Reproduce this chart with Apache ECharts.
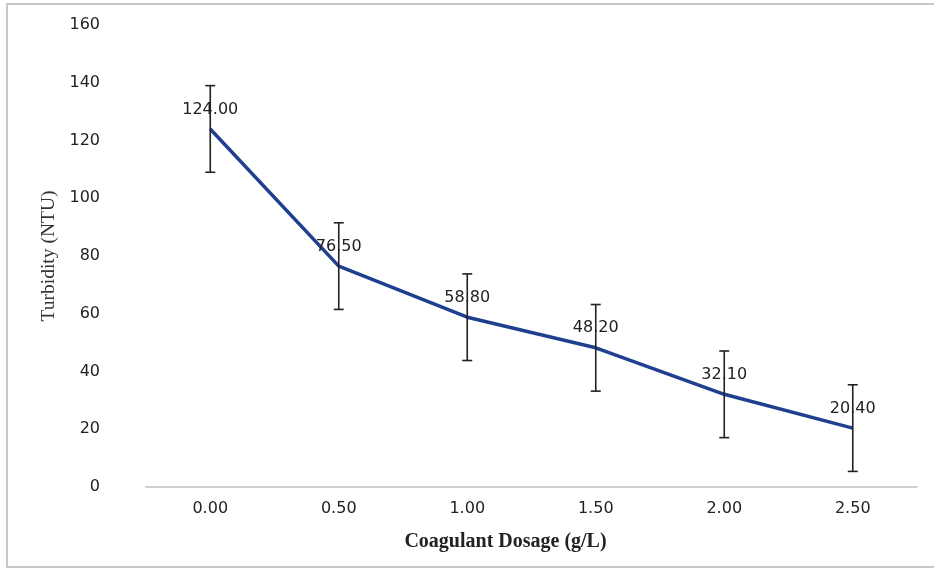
<!DOCTYPE html>
<html>
<head>
<meta charset="utf-8">
<script src="https://cdn.jsdelivr.net/npm/echarts@6/dist/echarts.min.js"></script>
<style>html,body{margin:0;padding:0;background:#fff;}#c{width:934px;height:569px;}</style>
</head>
<body>
<div id="c"></div>
<script>
const categories = ['0.00', '0.50', '1.00', '1.50', '2.00', '2.50'];
const turbidity = [124.00, 76.50, 58.80, 48.20, 32.10, 20.40];
const errors = [15, 15, 15, 15, 15, 15];
const yTicks = { min: 0, max: 160, interval: 20 };

const chart = echarts.init(document.getElementById('c'));
const errData = turbidity.map((v, i) => [i, v - errors[i], v + errors[i]]);

chart.setOption({
  animation: false,
  backgroundColor: '#fff',
  graphic: [{
    type: 'rect', shape: { x: 7, y: 4, width: 940, height: 563 },
    style: { fill: 'none', stroke: '#c8c8c8', lineWidth: 2 }, silent: true, z: -1
  }],
  grid: { left: 146, right: 17, top: 25, bottom: 82 },
  xAxis: {
    type: 'category', data: categories, boundaryGap: true,
    axisLine: { lineStyle: { color: '#cfcfcf', width: 2 } },
    axisTick: { show: false },
    axisLabel: { color: '#222', fontFamily: 'DejaVu Sans', fontSize: 16, margin: 14 },
    name: 'Coagulant Dosage (g/L)', nameLocation: 'middle', nameGap: 45,
    nameTextStyle: { fontFamily: 'Liberation Serif', fontSize: 20, color: '#222', fontWeight: 'bold', padding: [0, 52, 0, 0] }
  },
  yAxis: {
    type: 'value', min: yTicks.min, max: yTicks.max, interval: yTicks.interval,
    splitLine: { show: false },
    axisLine: { show: false }, axisTick: { show: false },
    axisLabel: { color: '#222', fontFamily: 'DejaVu Sans', fontSize: 16, margin: 46 },
    name: 'Turbidity (NTU)', nameLocation: 'middle', nameGap: 87,
    nameTextStyle: { fontFamily: 'Liberation Serif', fontSize: 19.5, color: '#333' }
  },
  series: [{
    type: 'line', data: turbidity,
    symbol: 'circle', symbolSize: 1,
    lineStyle: { color: '#1f3f8f', width: 3.5 },
    itemStyle: { color: '#1f3f8f' },
    label: {
      show: true, position: 'top', distance: 11,
      formatter: p => p.value.toFixed(2),
      fontFamily: 'DejaVu Sans', fontSize: 16, color: '#222'
    },
    z: 2
  }, {
    type: 'custom', data: errData, z: 3,
    renderItem: (params, api) => {
      const x = api.value(0);
      const lo = api.coord([x, api.value(1)]);
      const hi = api.coord([x, api.value(2)]);
      const w = 5;
      const st = { stroke: '#222', lineWidth: 1.6 };
      return {
        type: 'group', children: [
          { type: 'line', shape: { x1: hi[0], y1: hi[1], x2: lo[0], y2: lo[1] }, style: st },
          { type: 'line', shape: { x1: hi[0] - w, y1: hi[1], x2: hi[0] + w, y2: hi[1] }, style: st },
          { type: 'line', shape: { x1: lo[0] - w, y1: lo[1], x2: lo[0] + w, y2: lo[1] }, style: st }
        ]
      };
    }
  }]
});
</script>
</body>
</html>
